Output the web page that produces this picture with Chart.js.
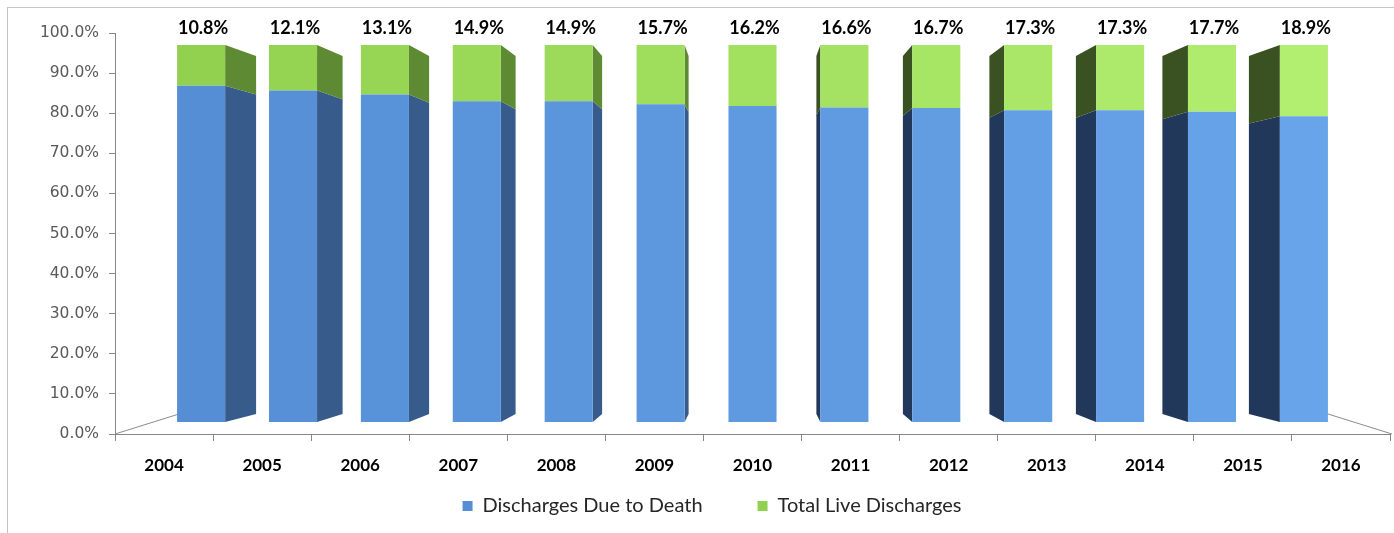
<!DOCTYPE html>
<html>
<head>
<meta charset="utf-8">
<script src="https://cdn.jsdelivr.net/npm/chart.js@4.4.1/dist/chart.umd.min.js"></script>
<style>
  html, body { margin: 0; padding: 0; background: #fff; overflow: hidden; }
  #wrap { position: relative; width: 1394px; height: 533px; }
  #frame { position: absolute; left: 7px; top: 7px; width: 1400px; height: 540px; border: 1px solid #c4c4c4; }
  #chart { position: absolute; left: 0; top: 0; }
</style>
</head>
<body>
<div id="wrap">
  <div id="frame"></div>
  <canvas id="chart" width="1394" height="533"></canvas>
</div>
<script>
const years = ['2004', '2005', '2006', '2007', '2008', '2009', '2010', '2011', '2012', '2013', '2014', '2015', '2016'];
const deathPct = [89.2, 87.9, 86.9, 85.1, 85.1, 84.3, 83.8, 83.4, 83.3, 82.7, 82.7, 82.3, 81.1];
const livePct = [10.8, 12.1, 13.1, 14.9, 14.9, 15.7, 16.2, 16.6, 16.7, 17.3, 17.3, 17.7, 18.9];
const yTicks = [0, 10, 20, 30, 40, 50, 60, 70, 80, 90, 100];

// mix two hex colours, t from 0 to 1
function mix(a, b, t) {
  const pa = [1, 3, 5].map(i => parseInt(a.substr(i, 2), 16));
  const pb = [1, 3, 5].map(i => parseInt(b.substr(i, 2), 16));
  return 'rgb(' + pa.map((v, i) => Math.round(v + (pb[i] - v) * t)).join(',') + ')';
}

const faces = [
  { front: ['#558ed5', '#68a4e9'], sideL: '#375c8c', sideR: '#22385a' },
  { front: ['#92d050', '#b2ef70'], sideL: '#5d8a33', sideR: '#3a5222' }
];

// 3d side faces drawn behind the bar fronts
const sideFaces = {
  id: 'sideFaces',
  beforeDatasetsDraw(chart) {
    const { ctx, chartArea } = chart;
    const vx = (chartArea.left + chartArea.right) / 2;
    const vy = chartArea.top + 0.57 * (chartArea.bottom - chartArea.top);
    const kx = 0.0587, ky = 0.0504;
    ctx.save();
    ctx.strokeStyle = '#8c8c8c';
    ctx.lineWidth = 1;
    ctx.beginPath();
    ctx.moveTo(chartArea.left, chartArea.bottom);
    ctx.lineTo(chartArea.left + 64, chartArea.bottom - 20);
    ctx.moveTo(chartArea.right + 2, chartArea.bottom);
    ctx.lineTo(chartArea.right - 62, chartArea.bottom - 20);
    ctx.stroke();
    chart.data.datasets.forEach((ds, di) => {
      chart.getDatasetMeta(di).data.forEach((bar, i) => {
        const p = bar.getProps(['x', 'y', 'base', 'width'], true);
        if (Math.abs(p.x - vx) < p.width / 2) return;
        const left = p.x < vx;
        const ex = left ? p.x + p.width / 2 : p.x - p.width / 2;
        const bx = ex + kx * (vx - ex);
        ctx.beginPath();
        ctx.moveTo(ex, p.y);
        ctx.lineTo(bx, p.y + ky * (vy - p.y));
        ctx.lineTo(bx, p.base + ky * (vy - p.base));
        ctx.lineTo(ex, p.base);
        ctx.closePath();
        ctx.fillStyle = left ? faces[di].sideL : faces[di].sideR;
        ctx.fill();
      });
    });
    ctx.restore();
  }
};

// percentage labels above the columns
const topLabels = {
  id: 'topLabels',
  afterDatasetsDraw(chart) {
    const { ctx, chartArea } = chart;
    const meta = chart.getDatasetMeta(1);
    ctx.save();
    ctx.font = 'bold 18px Lato';
    ctx.fillStyle = '#000';
    ctx.textAlign = 'center';
    ctx.textBaseline = 'middle';
    meta.data.forEach((bar, i) => {
      ctx.fillText(livePct[i].toFixed(1) + '%', bar.x + 2, chartArea.top - 5);
    });
    ctx.restore();
  }
};

new Chart(document.getElementById('chart'), {
  type: 'bar',
  data: {
    labels: years,
    datasets: [
      {
        label: 'Discharges Due to Death',
        data: deathPct.map((v, i) => ({ x: i, y: v })),
        backgroundColor: c => mix(faces[0].front[0], faces[0].front[1], c.dataIndex / 12),
        xAxisID: 'x2',
        yAxisID: 'y2'
      },
      {
        label: 'Total Live Discharges',
        data: livePct.map((v, i) => ({ x: i, y: v })),
        backgroundColor: c => mix(faces[1].front[0], faces[1].front[1], c.dataIndex / 12),
        xAxisID: 'x2',
        yAxisID: 'y2'
      }
    ]
  },
  options: {
    responsive: false,
    animation: false,
    devicePixelRatio: 1,
    categoryPercentage: 1,
    barPercentage: 0.523,
    layout: { padding: { top: 33, right: 4, bottom: 7, left: 34 } },
    scales: {
      x: {
        type: 'category',
        labels: years,
        offset: true,
        grid: { offset: true, drawOnChartArea: false, tickLength: 7, color: '#868686' },
        border: { color: '#868686' },
        ticks: { font: { family: 'Lato', weight: 'bold', size: 17 }, color: '#000', padding: 14, maxRotation: 0 },
        afterFit(s) { s.height = 52; }
      },
      y: {
        type: 'linear',
        min: 0,
        max: 100,
        afterBuildTicks(s) { s.ticks = yTicks.map(v => ({ value: v })); },
        ticks: { callback: v => v.toFixed(1) + '%', font: { family: 'DejaVu Sans', size: 15.5 }, color: '#595959', padding: 10 },
        grid: { drawOnChartArea: false, tickLength: 6, color: '#868686' },
        border: { color: '#868686' },
        afterFit(s) { s.width = 81; }
      },
      // hidden axes that place the column fronts a little inside the floor, as in perspective
      x2: { type: 'linear', display: false, stacked: true, offset: false, bounds: 'data', min: -0.937, max: 12.937 },
      y2: { type: 'linear', display: false, stacked: true, bounds: 'data', min: -3.18, max: 103.18 }
    },
    plugins: {
      tooltip: { enabled: false },
      legend: {
        position: 'bottom',
        labels: {
          boxWidth: 10,
          boxHeight: 10,
          padding: 10,
          color: '#262626',
          font: { family: 'Lato', size: 20 },
          generateLabels(chart) {
            const items = Chart.defaults.plugins.legend.labels.generateLabels(chart);
            items.forEach((it, i) => {
              it.fillStyle = faces[i].front[0];
              it.strokeStyle = faces[i].front[0];
              it.lineWidth = 0;
              if (i === 0) it.text += '\u2003\u2003\u2003';
            });
            return items;
          }
        }
      }
    }
  },
  plugins: [sideFaces, topLabels]
});
</script>
</body>
</html>
